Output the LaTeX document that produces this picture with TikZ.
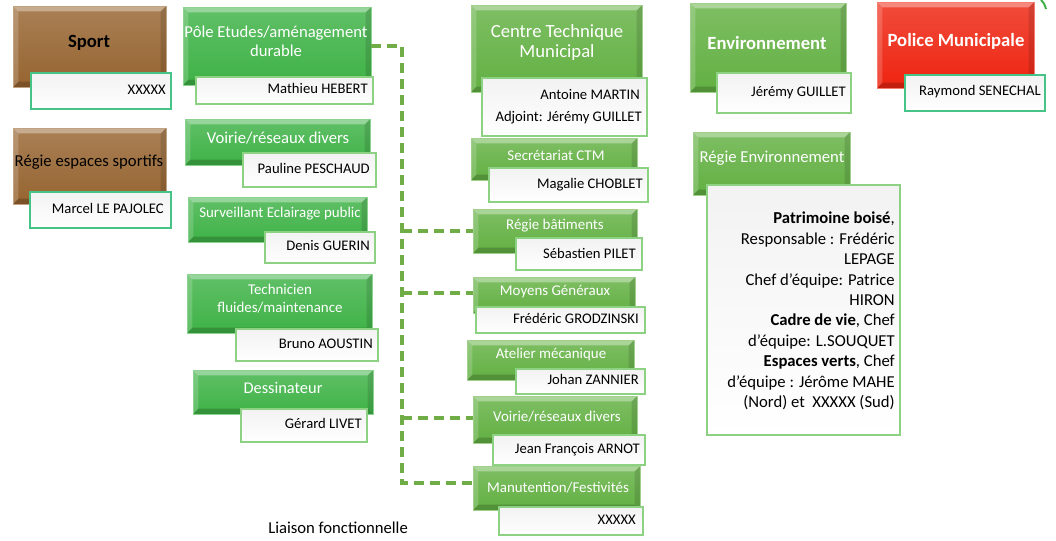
\documentclass[tikz,border=0pt]{standalone}
\usepackage{fontspec}
\setmainfont{Carlito}
\definecolor{gA}{RGB}{62,178,70}
\definecolor{gB}{RGB}{98,176,66}
\definecolor{brn}{RGB}{150,100,48}
\definecolor{rd}{RGB}{238,36,16}
\definecolor{dashg}{RGB}{112,173,71}
\definecolor{nbord}{RGB}{140,210,130}
\definecolor{nbordt}{RGB}{70,195,135}
\newcommand\bx[6]{\node[#6, minimum width={(#4-#2)*0.75pt}, minimum height={(#5-#3)*0.75pt}] (#1) at ({(#2+#4)/2},{(#3+#5)/2}) {};}
\tikzset{
  bevel/.style={path picture={
    \fill[white,opacity=0.35] (path picture bounding box.north west) -- (path picture bounding box.north east) -- ([shift={(-4pt,-4pt)}]path picture bounding box.north east) -- ([shift={(4pt,-4pt)}]path picture bounding box.north west) -- cycle;
    \fill[white,opacity=0.18] (path picture bounding box.north west) -- ([shift={(4pt,-4pt)}]path picture bounding box.north west) -- ([shift={(4pt,4pt)}]path picture bounding box.south west) -- (path picture bounding box.south west) -- cycle;
    \fill[black,opacity=0.12] (path picture bounding box.north east) -- (path picture bounding box.south east) -- ([shift={(-4pt,4pt)}]path picture bounding box.south east) -- ([shift={(-4pt,-4pt)}]path picture bounding box.north east) -- cycle;
    \fill[black,opacity=0.18] (path picture bounding box.south west) -- (path picture bounding box.south east) -- ([shift={(-4pt,4pt)}]path picture bounding box.south east) -- ([shift={(4pt,4pt)}]path picture bounding box.south west) -- cycle;
  }},
  tbox/.style={rectangle, inner sep=0pt, outer sep=0pt, top color=#1!82!white, bottom color=#1, draw=#1!60!white, line width=0.4pt, bevel},
  nbox/.style={rectangle, inner sep=0pt, outer sep=0pt, top color=black!5, bottom color=white, draw=#1, line width=0.9pt},
  nbox/.default=nbord,
  ttl/.style={inner sep=0pt, align=center, text=white, font=\fontsize{11.2}{13}\selectfont},
  ttlL/.style={ttl, font=\fontsize{12.5}{14.3}\selectfont},
  ttlB/.style={ttl, font=\fontsize{14}{15}\selectfont\bfseries},
  nm/.style={inner sep=0pt, anchor=east, text height=0.66em, text depth=0.2em, font=\fontsize{11}{13}\selectfont},
  dl/.style={draw=dashg, line width=3pt, dash pattern=on 7.5pt off 4.5pt},
}
\begin{document}
\begin{tikzpicture}[x=0.75pt,y=-0.75pt]
\useasboundingbox (0,0) rectangle (1056,540);
% dashed functional links
\coordinate (jT) at (402,47);
\coordinate (jM) at (402,483);
\coordinate (jR) at (402,231);
\coordinate (jG) at (402,293);
\coordinate (jV) at (402,418);
% ---- boxes
\bx{sport}{13}{6}{166}{87}{tbox=brn}
\bx{sportN}{31}{73}{171}{109}{nbox=nbordt}
\bx{regsp}{13}{128}{166}{204}{tbox=brn}
\bx{regspN}{30}{192}{171}{228}{nbox=nbordt}
\bx{pole}{183}{7}{371}{85}{tbox=gA}
\bx{poleN}{196}{77}{373}{104}{nbox}
\bx{voir}{185}{119}{370}{165}{tbox=gA}
\bx{voirN}{243}{153}{376}{187}{nbox}
\bx{surv}{188}{197}{367}{242}{tbox=gA}
\bx{survN}{265}{232}{375}{263}{nbox}
\bx{tech}{187}{274}{372}{333}{tbox=gA}
\bx{techN}{236}{329}{378}{361}{nbox}
\bx{dess}{193}{370}{373}{414}{tbox=gA}
\bx{dessN}{241}{409}{367}{442}{nbox}
\bx{ctm}{471}{5}{642}{92}{tbox=gB}
\bx{ctmN}{482}{78}{647}{136}{nbox}
\bx{sec}{471}{138}{637}{180}{tbox=gB}
\bx{secN}{489}{168}{648}{202}{nbox}
\bx{rb}{473}{209}{637}{253}{tbox=gB}
\bx{rbN}{516}{238}{642}{270}{nbox}
\bx{mg}{473}{277}{635}{313}{tbox=gB}
\bx{mgN}{476}{307}{645}{333}{nbox}
\bx{atel}{467}{340}{634}{380}{tbox=gB}
\bx{atelN}{516}{369}{645}{394}{nbox}
\bx{voirb}{473}{396}{637}{443}{tbox=gB}
\bx{voirbN}{493}{435}{645}{465}{nbox}
\bx{manu}{473}{466}{640}{510}{tbox=gB}
\bx{manuN}{499}{507}{643}{535}{nbox}
\bx{env}{690}{3}{846}{92}{tbox=gB}
\bx{envN}{717}{73}{851}{113}{nbox}
\bx{pol}{877}{2}{1034}{88}{tbox=rd}
\bx{polN}{905}{75}{1045}{111}{nbox=nbordt}
\bx{renv}{693}{132}{850}{195}{tbox=gB}
\bx{renvN}{707}{185}{900}{435}{nbox}
% ---- connectors
\draw[dl] (pole.east) -| (jM) -- (jM -| manu.west);
\draw[dl] (jR) -- (jR -| rb.west);
\draw[dl] (jG) -- (jG -| mg.west);
\draw[dl] (jV) -- (jV -| voirb.west);
% ---- titles
\node[ttlB, text=black] (tSport) at (89,43) {Sport};
\node[ttlL, text=black] (tRegsp) at (89,162) {Régie espaces sportifs};
\node[ttlL] (tPole) at (276,41.5) {Pôle Etudes/aménagement\\durable};
\node[ttlL] (tVoir) at (278,138) {Voirie/réseaux divers};
\node[ttl] (tSurv) at (280,214) {Surveillant Eclairage public};
\node[ttl] (tTech) at (280,298.5) {Technicien\\fluides/maintenance};
\node[ttl, font=\fontsize{12.3}{14}\selectfont] (tDess) at (283,388) {Dessinateur};
\node[ttlB, font=\fontsize{14}{15}\selectfont] (tCtm) at (557,43) {Centre Technique\\Municipal};
\node[ttl] (tSec) at (556,155) {Secrétariat CTM};
\node[ttl] (tRb) at (555,226) {Régie bâtiments};
\node[ttl] (tMg) at (555,292) {Moyens Généraux};
\node[ttl] (tAtel) at (551,355) {Atelier mécanique};
\node[ttl] (tVoirb) at (557,417) {Voirie/réseaux divers};
\node[ttl] (tManu) at (558,488) {Manutention/Festivités};
\node[ttlB] (tEnv) at (767,43) {Environnement};
\node[ttlB] (tPol) at (956,41) {Police Municipale};
\node[ttlL] (tRenv) at (772,158) {Régie Environnement};
% ---- names
\node[nm] (nSport) at (166,91) {XXXXX};
\node[nm] (nRegsp) at (164,210) {Marcel LE PAJOLEC};
\node[nm] (nPole) at (368,90) {Mathieu HEBERT};
\node[nm] (nVoir) at (370,170) {Pauline PESCHAUD};
\node[nm] (nSurv) at (370,247) {Denis GUERIN};
\node[nm] (nTech) at (373,345) {Bruno AOUSTIN};
\node[nm] (nDess) at (362,425) {Gérard LIVET};
\node[nm] (nCtmA) at (640,96) {Antoine MARTIN};
\node[nm] (nCtmB) at (642,118) {Adjoint: Jérémy GUILLET};
\node[nm] (nSec) at (643,185) {Magalie CHOBLET};
\node[nm] (nRb) at (636,255) {Sébastien PILET};
\node[nm] (nMg) at (639,320) {Frédéric GRODZINSKI};
\node[nm] (nAtel) at (639,381) {Johan ZANNIER};
\node[nm] (nVoirb) at (640,450) {Jean François ARNOT};
\node[nm] (nManu) at (636,521) {XXXXX};
\node[nm] (nEnv) at (846,93) {Jérémy GUILLET};
\node[nm] (nPol) at (1041,92) {Raymond SENECHAL};
\node[inner sep=0pt, anchor=east, align=right, font=\fontsize{12.5}{15.3}\selectfont] (nRenv) at (895,311)
 {\textbf{Patrimoine boisé},\\Responsable : Frédéric\\LEPAGE\\Chef d’équipe: Patrice\\HIRON\\\textbf{Cadre de vie}, Chef\\d’équipe: L.SOUQUET\\\textbf{Espaces verts}, Chef\\d’équipe : Jérôme MAHE\\(Nord) et\ \ XXXXX (Sud)};
% ---- caption and partial arc
\node[inner sep=0pt, anchor=base west, font=\fontsize{12.5}{15}\selectfont] (cap) at (268,533) {Liaison fonctionnelle};
\draw[draw=gA, line width=1.5pt] (1041,0) .. controls (1044,3) .. (1046,9);
\end{tikzpicture}
\end{document}
